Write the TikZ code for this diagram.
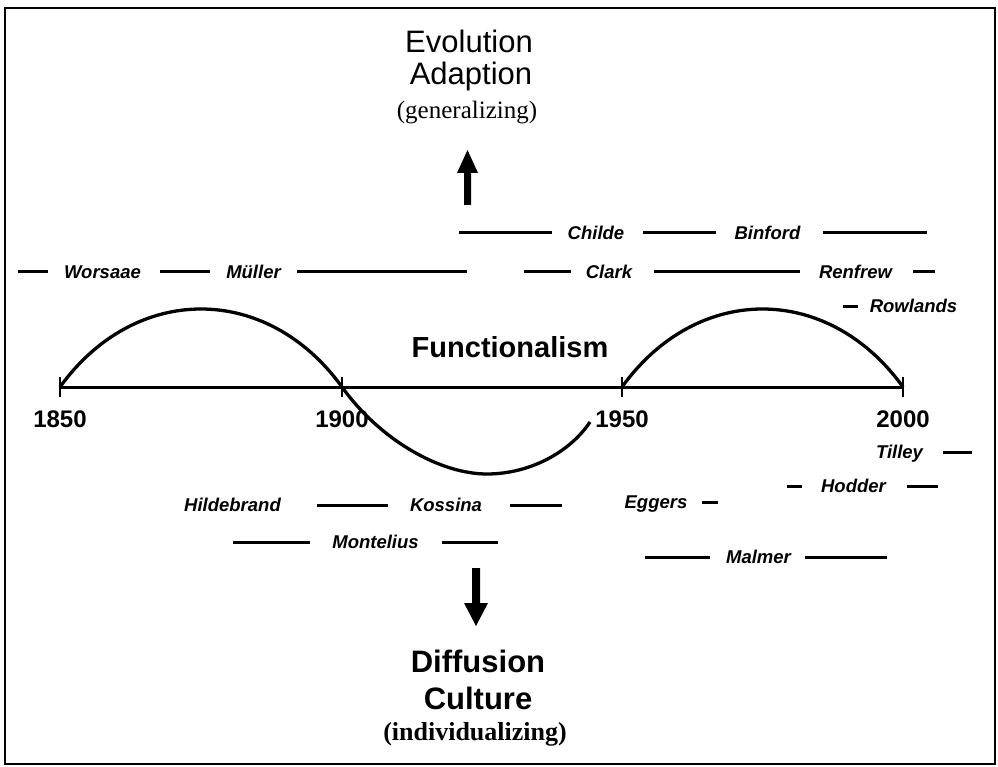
\documentclass[tikz,border=0pt]{standalone}
\usepackage{fontspec}
\setmainfont{Liberation Serif}
\newfontfamily\hsans{Liberation Sans}
\begin{document}
\begin{tikzpicture}[x=1pt,y=-1pt,
  nm/.style={font=\hsans\bfseries\itshape\fontsize{18.5}{18.5}\selectfont, anchor=base, inner sep=0pt},
  yr/.style={font=\hsans\bfseries\fontsize{24}{24}\selectfont, anchor=base, inner sep=0pt},
  big/.style={font=\hsans\fontsize{31}{31}\selectfont, anchor=base, inner sep=0pt},
  bigb/.style={font=\hsans\bfseries\fontsize{31}{31}\selectfont, anchor=base, inner sep=0pt},
  seg/.style={line width=3pt},
  tick/.style={line width=2.5pt},
  wave/.style={line width=3.3pt},
  arrowshape/.style={fill=black, draw=none}]
\useasboundingbox (0,0) rectangle (998,767);
\draw[line width=2pt] (5,8) rectangle (995,764);

% titles
\node[big] (evo) at (469,53) {Evolution};
\node[big] (ada) at (471,85) {Adaption};
\node[font=\fontsize{25}{25}\selectfont, anchor=base, inner sep=0pt] (gen) at (467,119) {(generalizing)};
\node[bigb] (dif) at (478,672) {Diffusion};
\node[bigb] (cul) at (478,709) {Culture};
\node[font=\bfseries\fontsize{26}{26}\selectfont, anchor=base, inner sep=0pt] (ind) at (475,740) {(individualizing)};
\node[font=\hsans\bfseries\fontsize{29}{29}\selectfont, anchor=base, inner sep=0pt] (fun) at (510,357) {Functionalism};

% arrows
\fill[arrowshape] (464,205) -- (464,173) -- (457,173) -- (467.5,150) -- (478,173) -- (471,173) -- (471,205) -- cycle;
\fill[arrowshape] (472,568) -- (472,603) -- (464,603) -- (476,626) -- (488,603) -- (480,603) -- (480,568) -- cycle;

% axis
\draw[line width=3pt] (60,387) -- (903,387);
\foreach \x/\lab in {60/1850,342/1900,622/1950,903/2000}{
  \draw[tick] (\x,377) -- (\x,397);
  \node[yr] (y\lab) at (\x,427) {\lab};
}

% wave
\draw[wave] (60,387) .. controls (135,283) and (267,283) .. (342,387)
  .. controls (380,440) and (440,474) .. (487,474)
  .. controls (530,474) and (570,452) .. (590,422);
\draw[wave] (622,387) .. controls (697,283) and (828,283) .. (903,387);

% row A
\draw[seg] (459,233) -- (552,233);
\node[nm] (childe) at (596,239.5) {Childe};
\draw[seg] (643,233) -- (716,233);
\node[nm] (binford) at (767.5,239.5) {Binford};
\draw[seg] (823,233) -- (927,233);

% row B
\draw[seg] (18,272) -- (48,272);
\node[nm] (worsaae) at (102.5,278.5) {Worsaae};
\draw[seg] (160,272) -- (210,272);
\node[nm] (muller) at (253.5,278.5) {Müller};
\draw[seg] (297,272) -- (467,272);
\draw[seg] (524,272) -- (571,272);
\node[nm] (clark) at (609,278.5) {Clark};
\draw[seg] (654,272) -- (800,272);
\node[nm] (renfrew) at (855.5,278.5) {Renfrew};
\draw[seg] (913,272) -- (935,272);

% row C
\draw[seg] (843,306) -- (858,306);
\node[nm] (rowlands) at (913.5,312.5) {Rowlands};

% row D
\node[nm] (tilley) at (899.5,458.5) {Tilley};
\draw[seg] (943,452) -- (972,452);

% row E
\draw[seg] (787,486) -- (802,486);
\node[nm] (hodder) at (853.5,492.5) {Hodder};
\draw[seg] (907,486) -- (938,486);

% row F
\node[nm] (hildebrand) at (232.5,511.5) {Hildebrand};
\draw[seg] (317,505) -- (388,505);
\node[nm] (kossina) at (446,511.5) {Kossina};
\draw[seg] (510,505) -- (562,505);
\node[nm] (eggers) at (656,508.5) {Eggers};
\draw[seg] (702,502) -- (718,502);

% row G
\draw[seg] (233,542) -- (310,542);
\node[nm] (montelius) at (375.5,548.5) {Montelius};
\draw[seg] (442,542) -- (498,542);

% row H
\draw[seg] (645,557) -- (710,557);
\node[nm] (malmer) at (758.5,563.5) {Malmer};
\draw[seg] (805,557) -- (887,557);
\end{tikzpicture}
\end{document}
